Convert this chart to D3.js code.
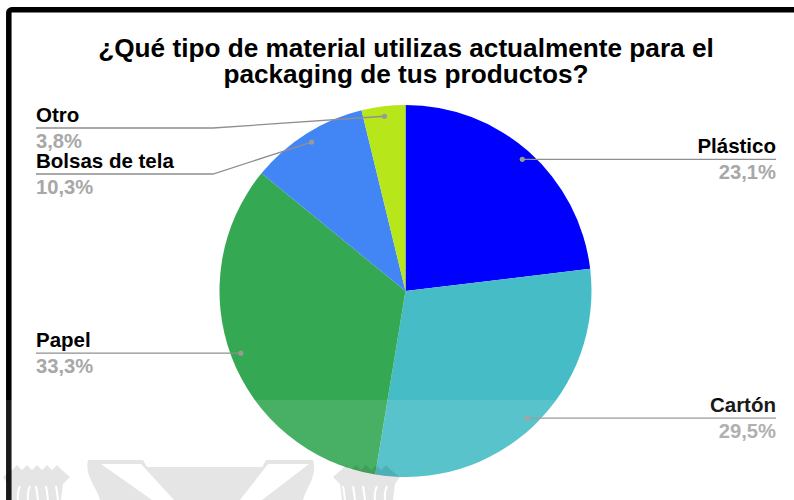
<!DOCTYPE html>
<html>
<head>
<meta charset="utf-8">
<script src="https://cdn.jsdelivr.net/npm/d3@7"></script>
<style>
  html, body { margin: 0; padding: 0; background: #fff; }
  svg { display: block; }
  text { font-family: "Liberation Sans", Arial, sans-serif; }
</style>
</head>
<body>
<svg id="chart" width="794" height="500"></svg>
<script>
// Survey answers: current packaging material
const categories = ["Plástico", "Cartón", "Papel", "Bolsas de tela", "Otro"];
const values = [23.1, 29.5, 33.3, 10.3, 3.8];
const sliceColors = ["#0000ff", "#46bdc6", "#34a853", "#4285f4", "#b7e61a"];
const titleLines = ["¿Qué tipo de material utilizas actualmente para el", "packaging de tus productos?"];

const W = 794, H = 500;
const cx = 405.5, cy = 291, R = 186;

const svg = d3.select("#chart");

// Frame
svg.append("rect")
  .attr("x", 8.8).attr("y", 9.7)
  .attr("width", 900).attr("height", 600)
  .attr("rx", 3)
  .attr("fill", "none")
  .attr("stroke", "#000")
  .attr("stroke-width", 5.5);

// Title
const title = svg.append("text")
  .attr("text-anchor", "middle")
  .attr("font-weight", "bold")
  .attr("font-size", 26.2)
  .attr("fill", "#000");
titleLines.forEach((t, i) => {
  title.append("tspan").attr("x", 406).attr("y", 57 + i * 26).text(t);
});

// Pie
const pie = d3.pie().sort(null).value(d => d)
  .startAngle(0).endAngle(2 * Math.PI);
const arcs = pie(values);
const arc = d3.arc().innerRadius(0).outerRadius(R);
const color = d3.scaleOrdinal().domain(categories).range(sliceColors);

const g = svg.append("g").attr("transform", `translate(${cx},${cy})`);
g.selectAll("path.slice")
  .data(arcs)
  .join("path")
  .attr("class", "slice")
  .attr("d", arc)
  .attr("fill", (d, i) => color(categories[i]));

// Leader anchor points on each slice's mid-angle
const anchorArc = d3.arc().innerRadius(R - 10).outerRadius(R - 10);
const items = arcs.map((a, i) => {
  const mid = (a.startAngle + a.endAngle) / 2;
  const [ax, ay] = anchorArc.centroid(a);
  return {
    name: categories[i],
    value: values[i],
    side: Math.sin(mid) >= 0 ? "right" : "left",
    dx: cx + ax,
    dy: cy + ay
  };
});

// Vertical placement of labels: keep them apart and below the title
const minLineY = 128, gap = 46;
["left", "right"].forEach(side => {
  const list = items.filter(d => d.side === side).sort((a, b) => a.dy - b.dy);
  let prev = -Infinity;
  list.forEach(d => {
    d.ly = Math.max(d.dy, prev + gap, minLineY);
    prev = d.ly;
  });
});

const leftX = 36, rightX = 776, elbowLeft = 213;
const fmt = v => d3.format(".1f")(v).replace(".", ",") + "%";

const labels = svg.append("g");
items.forEach(d => {
  let pts;
  if (d.side === "left") {
    pts = Math.abs(d.ly - d.dy) < 1
      ? [[leftX, d.ly], [d.dx, d.dy]]
      : [[leftX, d.ly], [elbowLeft, d.ly], [d.dx, d.dy]];
  } else {
    pts = [[d.dx, d.dy], [rightX, d.dy]];
  }
  labels.append("path")
    .attr("d", d3.line()(pts))
    .attr("fill", "none")
    .attr("stroke", "#8f8f8f")
    .attr("stroke-width", 1.3);
  labels.append("circle")
    .attr("cx", d.dx).attr("cy", d.dy).attr("r", 2.6)
    .attr("fill", "#999");
  const tx = d.side === "left" ? leftX : rightX;
  const anchor = d.side === "left" ? "start" : "end";
  labels.append("text")
    .attr("x", tx).attr("y", d.ly - 6)
    .attr("text-anchor", anchor)
    .attr("font-weight", "bold")
    .attr("font-size", 20.5)
    .attr("fill", "#000")
    .text(d.name);
  labels.append("text")
    .attr("x", tx).attr("y", d.ly + 20)
    .attr("text-anchor", anchor)
    .attr("font-weight", "bold")
    .attr("font-size", 20.2)
    .attr("fill", "#a8a8a8")
    .text(fmt(d.value));
});

// Faint logo band along the bottom
const band = svg.append("g");
band.append("rect")
  .attr("x", 0).attr("y", 400).attr("width", W).attr("height", 100)
  .attr("fill", "#fff").attr("opacity", 0.1);

const crown = "M12,470 L17,465 L22,470 L27,465 L32,470 L37,465 L42,470 L47,465 L52,470 L57,465 L62,470 "
  + "L70,477 L63,484 L61,500 L10,500 L8,484 L3,477 Z";
const logo = band.append("g").attr("fill", "#000").attr("fill-opacity", 0.1);
logo.append("path").attr("d", crown);
logo.append("path").attr("d", crown).attr("transform", "translate(403,0) scale(-1,1)");
logo.append("path").attr("d",
  "M88,460 L143,460 L147,467 L262,467 L266,460 L313,460 C318,475 306,488 303,500 "
  + "L100,500 C97,488 84,475 88,460 Z");

const cuts = band.append("g").attr("fill", "#fff");
cuts.append("path").attr("d", "M101,464 L141,464 L174,500 L152,500 Z");
cuts.append("path").attr("d", "M268,464 L309,464 L262,500 L240,500 Z");
// petal separators under the crowns
const sep = band.append("g").attr("stroke", "#fff").attr("stroke-width", 2).attr("fill", "none");
[0, 403].forEach(off => {
  [18, 28, 38, 48, 58].forEach(x => {
    const xx = off === 0 ? x : off - x;
    sep.append("path").attr("d", `M${xx},500 Q${xx - 1},492 ${xx + (x < 36 ? 2 : -2)},486`);
  });
});
</script>
</body>
</html>
